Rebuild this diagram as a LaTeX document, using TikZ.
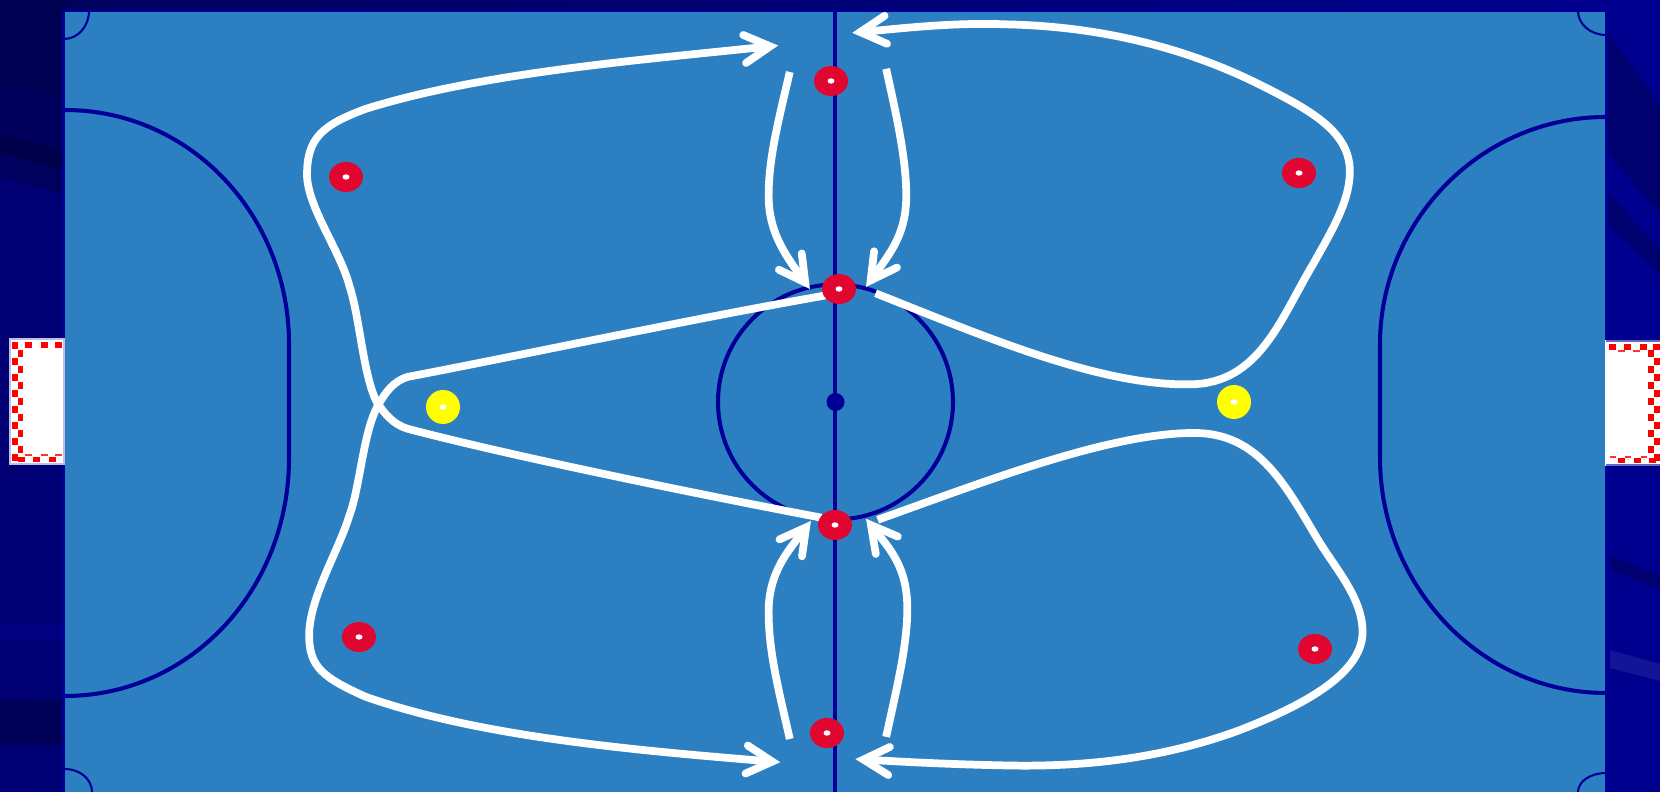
\documentclass[tikz,border=0pt]{standalone}
\usepackage{xcolor}
\usepackage{tikz}
\usetikzlibrary{arrows.meta}

\tikzset{
  linha/.style={draw=linhaC, line width=1.15pt},
  percurso/.style={draw=white, line width=2.2pt, -{Straight Barb[length=7.3pt, width=8pt, line cap=round, line join=miter]}},
  defensor/.style={fill=defesaC},
  atacante/.style={fill=ataqueC},
  miolo/.style={fill=white},
  casa/.style={fill=red}
}

\begin{document}
\begin{tikzpicture}[x=0.01cm, y=-0.01cm]
% --- CORES ---
\definecolor{quadra}{HTML}{2C80C2}
\definecolor{linhaC}{HTML}{000099}
\definecolor{fundoE}{HTML}{000074}
\definecolor{fundoD}{HTML}{00008F}
\definecolor{topoE}{HTML}{00005C}
\definecolor{defesaC}{HTML}{E0062F}
\definecolor{ataqueC}{HTML}{FFFF00}
\useasboundingbox (0,0) rectangle (1660,792);

% LAYER 1: Fundo
\shade[left color=fundoE, right color=fundoD] (0,0) rectangle (1660,792);
\shade[left color=topoE, right color=fundoD] (0,0) rectangle (1660,11);
\fill[topoE!90!black] (0,0) -- (65,0) -- (65,100) -- (0,82) -- cycle;
\fill[topoE] (0,82) -- (65,100) -- (65,152) -- (0,133) -- cycle;
\fill[topoE!80!black] (0,133) -- (65,152) -- (65,172) -- (0,152) -- cycle;
\fill[topoE!90!fundoE] (0,152) -- (65,172) -- (65,195) -- (0,177) -- cycle;
\fill[topoE!95!black] (0,700) rectangle (62,745);
\fill[fundoD!90!black] (0,625) rectangle (62,640);
\fill[fundoD!78!black] (1606,30) -- (1660,105) -- (1660,215) -- (1606,150) -- cycle;
\fill[fundoD!78!black] (1606,190) -- (1660,250) -- (1660,275) -- (1606,222) -- cycle;
\fill[fundoD!80!black] (1610,555) -- (1660,575) -- (1660,590) -- (1610,570) -- cycle;
\fill[fundoD!92!white] (1610,650) -- (1660,664) -- (1660,681) -- (1610,668) -- cycle;

% LAYER 2: Quadra
\fill[quadra] (65,11) rectangle (1606.5,792);
\draw[linhaC, line width=0.8pt] (63.5,792) -- (63.5,11) -- (1606.5,11) -- (1606.5,792);

% LAYER 3: Linhas
\draw[linha] (835,11) -- (835,792);
\draw[linha] (835.5,402) circle (117.5);
\fill[linhaC] (835.5,402) circle (9);
% Areas
\draw[linha] (65,110) .. controls (190,110) and (289,215) .. (289,344) -- (289,458) .. controls (289,590) and (190,696) .. (65,696);
\draw[linha] (1606,117) .. controls (1480,117) and (1380,222) .. (1380,344) -- (1380,458) .. controls (1380,585) and (1480,693) .. (1606,693);
% Cantos
\draw[linhaC, line width=0.6pt] (89,11) arc[start angle=0, end angle=90, x radius=25, y radius=28];
\draw[linhaC, line width=0.6pt] (1578,11) arc[start angle=180, end angle=90, x radius=28, y radius=24];
\draw[linhaC, line width=0.6pt] (92,792) arc[start angle=0, end angle=90, x radius=27, y radius=-23];
\draw[linhaC, line width=0.6pt] (1578,792) arc[start angle=180, end angle=90, x radius=28, y radius=-19];

% LAYER 4: Balizas
\draw[fill=white, draw=linhaC!25!white, line width=0.4pt] (10,339) rectangle (64,464);
\draw[fill=white, draw=white] (1606,341) rectangle (1660,465);
\draw[linhaC!60!white, line width=0.4pt] (1606,341) -- (1660,341) (1606,465) -- (1660,465);
\foreach \yy in {342,358,...,454} \fill[casa] (12,\yy) rectangle +(5.5,7.5);
\foreach \yy in {350,366,...,446} \fill[casa] (17.5,\yy) rectangle +(5.5,7.5);
\foreach \xx in {25,41,55} \fill[casa] (\xx,342) rectangle +(7,6);
\foreach \xx in {18,33,49} \fill[casa] (\xx,457) rectangle +(7,5);
\foreach \xx in {25,41,55} \fill[red!80!white] (\xx,454) rectangle +(7,2.5);
\foreach \xx in {1609,1624,1640,1653} \fill[casa] (\xx,344) rectangle +(6.5,6);
\foreach \xx in {1618,1633} \fill[red!80!white] (\xx,350) rectangle +(7,2);
\foreach \xx in {1618,1634,1649} \fill[casa] (\xx,458) rectangle +(7,5);
\foreach \xx in {1610,1625,1641,1654} \fill[red!80!white] (\xx,456) rectangle +(6,2);
\foreach \yy in {350,366,...,446} \fill[casa] (1648,\yy) rectangle +(5.5,7.5);
\foreach \yy in {358,374,...,454} \fill[casa] (1653.5,\yy) rectangle +(6.5,7.5);

% LAYER 5: Percursos (tracados sobre a imagem)
\begin{scope}[xscale=1.0587, yscale=1.0587]
% Longos, lado esquerdo
\draw[percurso] (776,489) .. controls (650,465) and (480,430) .. (385,405) .. controls (372,401) and (364,392) .. (356,380) .. controls (343,355) and (340,300) .. (330,270) .. controls (322,238) and (290,195) .. (290,165) .. controls (290,130) and (305,118) .. (345,103) .. controls (450,70) and (590,58) .. (735,43);
\draw[percurso] (780,279) .. controls (650,302) and (480,338) .. (385,356) .. controls (372,360) and (364,370) .. (356,385) .. controls (343,410) and (340,460) .. (330,487) .. controls (320,520) and (292,565) .. (292,600) .. controls (292,630) and (305,640) .. (345,658) .. controls (450,695) and (590,708) .. (737,720);
% Longos, lado direito
\draw[percurso] (827,277) .. controls (930,318) and (1040,365) .. (1125,363) .. controls (1190,362) and (1210,300) .. (1240,250) .. controls (1258,218) and (1275,190) .. (1275,162) .. controls (1275,125) and (1240,105) .. (1190,80) .. controls (1130,50) and (1050,25) .. (950,23) .. controls (900,21) and (850,27) .. (805,31);
\draw[percurso] (829,491) .. controls (930,455) and (1050,408) .. (1130,409) .. controls (1190,410) and (1215,460) .. (1245,510) .. controls (1262,538) and (1287,565) .. (1287,597) .. controls (1287,635) and (1235,665) .. (1170,690) .. controls (1110,712) and (1040,725) .. (950,723) .. controls (900,722) and (860,720) .. (808,717);
% Curtos, centro
\draw[percurso] (746,68) .. controls (735,115) and (726,150) .. (726,185) .. controls (726,222) and (745,245) .. (765,273);
\draw[percurso] (837,65) .. controls (847,110) and (856,150) .. (856,185) .. controls (856,222) and (840,240) .. (818,271);
\draw[percurso] (746,698) .. controls (735,650) and (726,615) .. (726,578) .. controls (726,540) and (745,520) .. (766,492);
\draw[percurso] (837,696) .. controls (847,650) and (857,610) .. (857,575) .. controls (857,535) and (840,518) .. (818,490);
\end{scope}

% LAYER 6: Jogadores
\foreach \xx/\yy in {831/81, 839/289, 835/525, 827/733, 346/177, 1299/173, 359/637, 1315/649}{
  \fill[defensor] (\xx,\yy) ellipse (17 and 15);
  \fill[miolo] (\xx,\yy) ellipse (3.5 and 2.7);
}
\foreach \xx/\yy in {443/407, 1234/402}{
  \fill[atacante] (\xx,\yy) circle (17);
  \fill[miolo] (\xx,\yy) ellipse (3.5 and 2.7);
}
\end{tikzpicture}
\end{document}
